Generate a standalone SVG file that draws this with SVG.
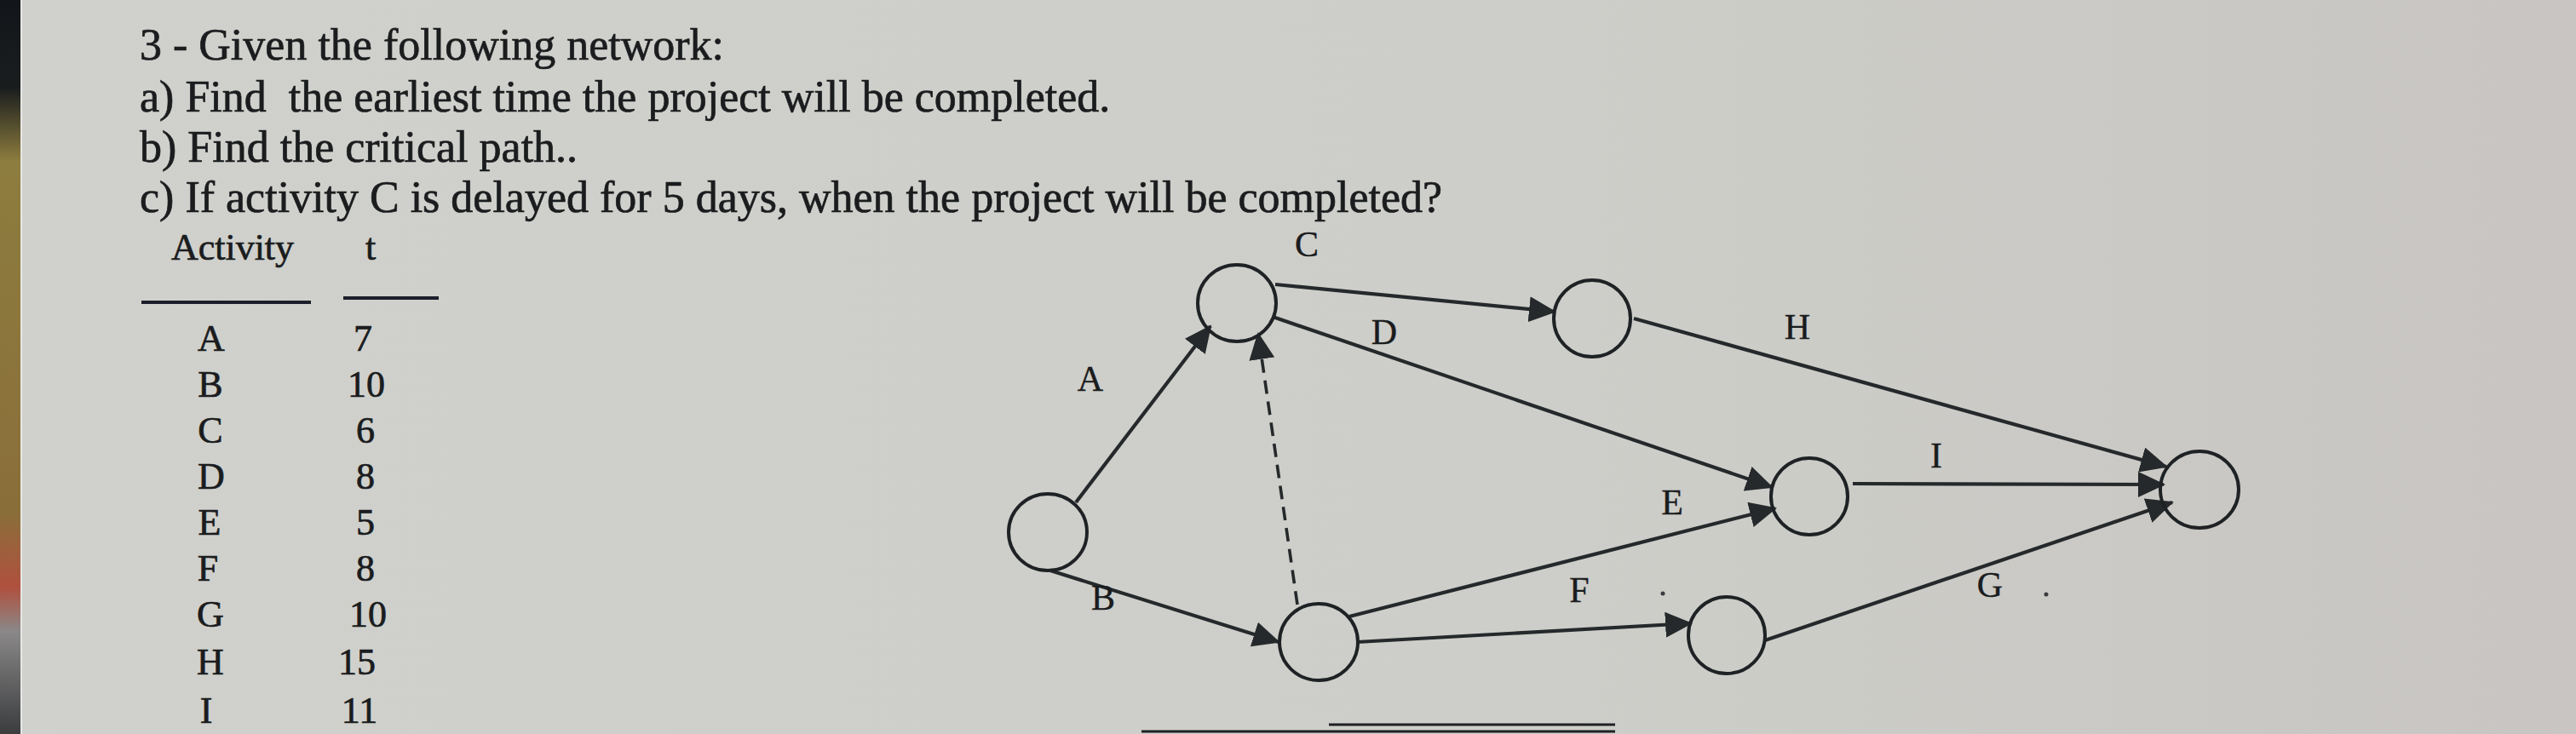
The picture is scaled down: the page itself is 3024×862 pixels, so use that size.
<svg xmlns="http://www.w3.org/2000/svg" width="3024" height="862" viewBox="0 0 3024 862">
<defs>
<linearGradient id="paper" x1="0" y1="0" x2="1" y2="0">
<stop offset="0" stop-color="#d0d1cc"/>
<stop offset="0.6" stop-color="#cdcec9"/>
<stop offset="1" stop-color="#c8c5c2"/>
</linearGradient>
<linearGradient id="edge" x1="0" y1="0" x2="0" y2="1">
<stop offset="0" stop-color="#12161a"/>
<stop offset="0.12" stop-color="#1a1d1e"/>
<stop offset="0.22" stop-color="#8d7d3e"/>
<stop offset="0.7" stop-color="#8a6e3a"/>
<stop offset="0.8" stop-color="#b0503e"/>
<stop offset="0.86" stop-color="#8a8888"/>
<stop offset="1" stop-color="#3a3c3e"/>
</linearGradient>
<marker id="ah" viewBox="0 0 32 30" refX="30" refY="15" markerWidth="32" markerHeight="30" markerUnits="userSpaceOnUse" orient="auto">
<path d="M0,0 L32,15 L0,30 Z" fill="#25292b"/>
</marker>
<style>
.t{font-family:"Liberation Serif","Times New Roman",serif;fill:#1a1c1e;stroke:#1a1c1e;stroke-width:0.7}
.h{font-size:52px}
.tb{font-size:44px;text-anchor:middle}
.lb{font-size:42px;text-anchor:middle;stroke-width:0.4}
.n{fill:none;stroke:#1e2224;stroke-width:4}
.e{stroke:#25292b;stroke-width:4.2;fill:none;marker-end:url(#ah)}
.d{stroke-dasharray:16 9;stroke-width:3.6}
</style>
</defs>
<rect x="0" y="0" width="3024" height="862" fill="url(#paper)"/>
<rect x="0" y="0" width="24" height="862" fill="url(#edge)"/>
<rect x="24" y="0" width="2" height="862" fill="#e6e7e4"/>

<g id="question">
<text class="t h" x="164" y="70">3 - Given the following network:</text>
<text class="t h" x="164" y="131" xml:space="preserve">a) Find  the earliest time the project will be completed.</text>
<text class="t h" x="164" y="190">b) Find the critical path..</text>
<text class="t h" x="164" y="249">c) If activity C is delayed for 5 days, when the project will be completed?</text>
</g>

<g id="table">
<text class="t tb" x="273" y="305">Activity</text>
<text class="t tb" x="435" y="305">t</text>
<line x1="166" y1="355" x2="365" y2="355" stroke="#1c1e2a" stroke-width="4"/>
<line x1="403" y1="350" x2="515" y2="350" stroke="#1c1e2a" stroke-width="4"/>
<text class="t tb" x="248" y="412">A</text><text class="t tb" x="426" y="412">7</text>
<text class="t tb" x="247" y="466">B</text><text class="t tb" x="430" y="466">10</text>
<text class="t tb" x="247" y="520">C</text><text class="t tb" x="429" y="520">6</text>
<text class="t tb" x="248" y="574">D</text><text class="t tb" x="429" y="574">8</text>
<text class="t tb" x="246" y="628">E</text><text class="t tb" x="429" y="628">5</text>
<text class="t tb" x="244" y="682">F</text><text class="t tb" x="429" y="682">8</text>
<text class="t tb" x="247" y="736">G</text><text class="t tb" x="432" y="736">10</text>
<text class="t tb" x="247" y="792">H</text><text class="t tb" x="419" y="792">15</text>
<text class="t tb" x="242" y="849">I</text><text class="t tb" x="422" y="849">11</text>
</g>

<g id="connectors">
<line class="e" x1="1263" y1="590" x2="1421" y2="383"/>
<line class="e" x1="1233" y1="670" x2="1501" y2="754"/>
<line class="e d" x1="1523" y1="710" x2="1477" y2="392"/>
<line class="e" x1="1497" y1="334" x2="1825" y2="366"/>
<line class="e" x1="1494" y1="372" x2="2080" y2="572"/>
<line class="e" x1="1918" y1="374" x2="2543" y2="548"/>
<line class="e" x1="2175" y1="568" x2="2540" y2="569"/>
<line class="e" x1="1584" y1="724" x2="2084" y2="597"/>
<line class="e" x1="1593" y1="754" x2="1985" y2="732"/>
<line class="e" x1="2072" y1="752" x2="2550" y2="590"/>
</g>

<g id="node-1"><ellipse class="n" cx="1230" cy="625" rx="46" ry="45"/></g>
<g id="node-2"><ellipse class="n" cx="1452" cy="356" rx="46" ry="45"/></g>
<g id="node-3"><ellipse class="n" cx="1869" cy="374" rx="45" ry="45"/></g>
<g id="node-4"><ellipse class="n" cx="1548" cy="754" rx="46" ry="45"/></g>
<g id="node-5"><ellipse class="n" cx="2124" cy="583" rx="45" ry="45"/></g>
<g id="node-6"><ellipse class="n" cx="2582" cy="575" rx="46" ry="45"/></g>
<g id="node-7"><ellipse class="n" cx="2027" cy="746" rx="45" ry="45"/></g>

<g id="labels">
<text class="t lb" x="1534" y="301">C</text>
<text class="t lb" x="1625" y="404">D</text>
<text class="t lb" x="1280" y="459">A</text>
<text class="t lb" x="1295" y="716">B</text>
<text class="t lb" x="1963" y="604">E</text>
<text class="t lb" x="1854" y="707">F</text>
<text class="t lb" x="2110" y="398">H</text>
<text class="t lb" x="2273" y="549">I</text>
<text class="t lb" x="2336" y="701">G</text>
</g>

<g id="marks">
<circle cx="1952" cy="697" r="2.5" fill="#3a3c3e"/>
<circle cx="2402" cy="698" r="2.5" fill="#3a3c3e"/>
<line x1="1560" y1="851" x2="1896" y2="851" stroke="#1e2024" stroke-width="3"/>
<line x1="1340" y1="859" x2="1896" y2="859" stroke="#1e2024" stroke-width="3"/>
</g>
</svg>
